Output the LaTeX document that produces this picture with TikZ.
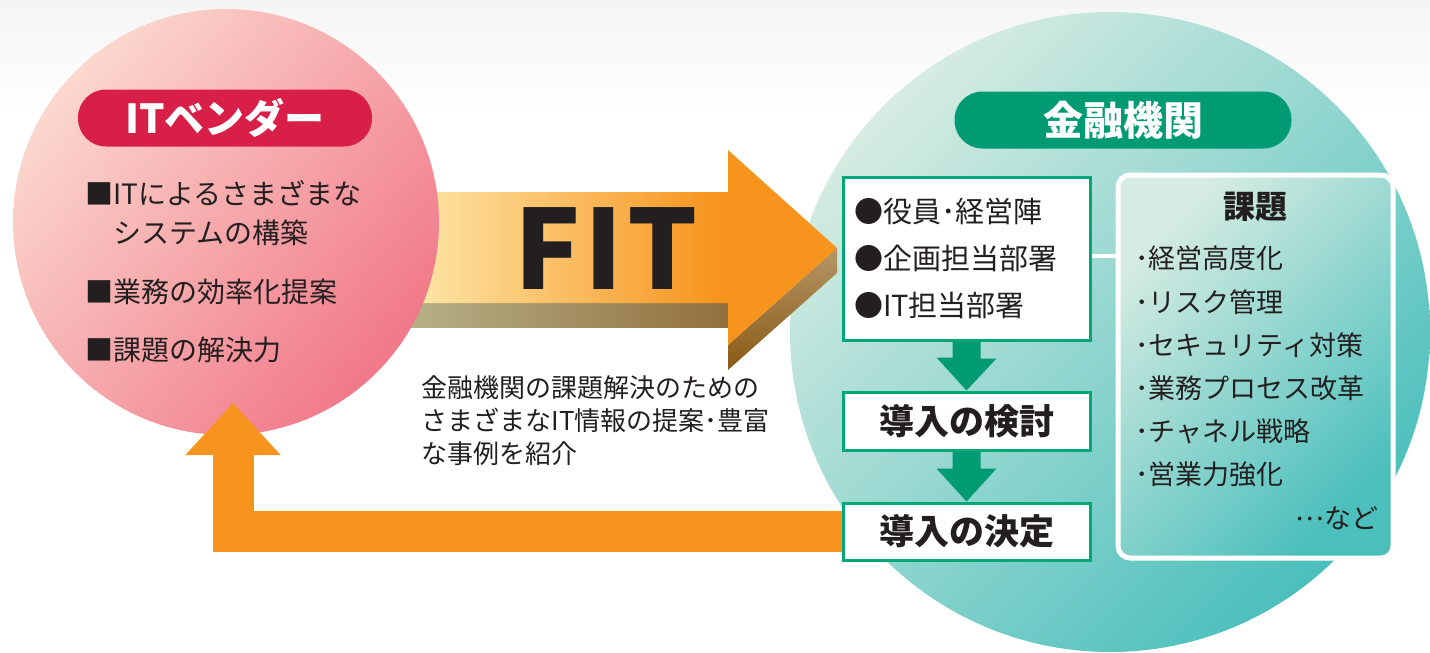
\documentclass[tikz,border=0pt]{standalone}
\usepackage{fontspec}
\setmainfont{Noto Sans CJK JP}
\usetikzlibrary{positioning,arrows.meta}

\definecolor{vendorred}{HTML}{D81F48}
\definecolor{pinklight}{HTML}{FBD8CE}
\definecolor{pinkdark}{HTML}{F17888}
\definecolor{bankgreen}{HTML}{009B73}
\definecolor{boxgreen}{HTML}{00A877}
\definecolor{teallight}{HTML}{D6ECE2}
\definecolor{tealdark}{HTML}{4BBFBC}
\definecolor{fitlight}{HTML}{FDE3A2}
\definecolor{fitorange}{HTML}{F7941D}
\definecolor{khaki}{HTML}{B9B68F}
\definecolor{sidebrown}{HTML}{92703C}
\definecolor{headtop}{HTML}{B59668}
\definecolor{headbottom}{HTML}{8A5A14}
\definecolor{ink}{HTML}{231F20}

\pgfdeclarehorizontalshading{fitshade}{100bp}{color(0bp)=(fitlight); color(30bp)=(fitlight); color(62bp)=(fitorange); color(100bp)=(fitorange)}

\begin{document}
\begin{tikzpicture}[x=1pt,y=-1pt,
	font=\fontsize{28}{34}\selectfont,text=ink,
	pill/.style={rounded corners=28pt,fill=#1,minimum height=57pt,inner sep=0pt,text=white,font=\fontsize{40}{40}\selectfont\bfseries},
	stagebox/.style={draw=boxgreen,line width=3pt,fill=white,minimum width=247pt,inner sep=0pt},
	flowarrow/.style={fill=bankgreen},
	backarrow/.style={draw=fitorange,line width=41pt,-{Triangle[length=52pt,width=92pt]}},
	itemtext/.style={anchor=west}]

  % background and circles
  \useasboundingbox (0,0) rectangle (1430,653);
  \shade[top color=black!4,bottom color=white] (0,0) rectangle (1430,115);
  \node[circle,minimum size=640pt,top color=teallight,bottom color=tealdark,shading angle=45] (bank) at (1110,332) {};

  % FIT arrow
  \shade[left color=khaki,right color=sidebrown] (380,303) -- (728,303) -- (728,327) -- (380,327) -- cycle;
  \shade[top color=headtop,bottom color=headbottom] (837,248) -- (837,273) -- (728,370) -- (728,345) -- cycle;
  \shade[shading=fitshade] (380,192) -- (728,192) -- (728,150) -- (837,248) -- (728,345) -- (728,303) -- (380,303) -- cycle;
  \node[font=\fontsize{110}{110}\selectfont\bfseries] (fit) at (606,249) {F\kern4pt I\kern4pt T};

  \node[circle,minimum size=426pt,top color=pinklight,bottom color=pinkdark,shading angle=50] (vendor) at (226,222) {};

  % vendor side
  \node[pill=vendorred,minimum width=294pt] (vendortitle) at (225,118) {ITベンダー};
  \node[itemtext] (v1) at (82,193) {■ITによるさまざまな};
  \node[itemtext] (v2) at (82,233) {\hphantom{■}システムの構築};
  \node[itemtext] (v3) at (82,292) {■業務の効率化提案};
  \node[itemtext] (v4) at (82,350) {■課題の解決力};

  \node[anchor=north west,align=left,font=\fontsize{26}{33}\selectfont] (caption) at (418,372)
    {金融機関の課題解決のための\\さまざまなIT情報の提案･豊富\\な事例を紹介};

  % bank side
  \node[pill=bankgreen,minimum width=337pt] (banktitle) at (1123,120) {金融機関};
  \node[stagebox,minimum height=163pt,text width=225pt,inner xsep=11pt,align=left,
	font=\fontsize{29}{47}\selectfont] (box1) at (966.5,258.5)
    {●役員･経営陣\\●企画担当部署\\●IT担当部署};
  \node[stagebox,minimum height=58pt,font=\fontsize{35}{35}\selectfont\bfseries] (box2) at (966.5,421) {導入の検討};
  \node[stagebox,minimum height=57pt,font=\fontsize{35}{35}\selectfont\bfseries] (box3) at (966.5,531.5) {導入の決定};

  \node[draw=white,line width=5pt,rounded corners=12pt,minimum width=275pt,minimum height=383pt,
	top color=teallight,bottom color=tealdark,shading angle=45] (kadai) at (1255.5,366.5) {};
  \node[below=16pt of kadai.north,font=\fontsize{32}{32}\selectfont\bfseries] (kadaihead) {課題};
  \node[anchor=north west,text width=243pt,align=left,inner sep=0pt,font=\fontsize{27}{43.2}\selectfont] (kadailist) at (1135,246)
    {･経営高度化\\･リスク管理\\･セキュリティ対策\\･業務プロセス改革\\･チャネル戦略\\･営業力強化\\\hspace*{\fill}\raisebox{0.3em}{…}など};

  \draw[white,line width=4pt] ([yshift=3pt]box1.east) -- ([yshift=3pt]box1.east -| kadai.west);

  \foreach \a/\b in {box1/box2,box2/box3}{
	  \fill[flowarrow] (\a.south) ++(-14,0) -- ++(28,0) -- ++(0,17) -- ++(16,0) -- (\b.north) -- ++(-30,-33) -- ++(16,0) -- cycle;
  }

  % feedback to the vendor
  \coordinate (vtip) at (233,403);
  \draw[backarrow] (box3.west) -| (vtip);

\end{tikzpicture}
\end{document}
